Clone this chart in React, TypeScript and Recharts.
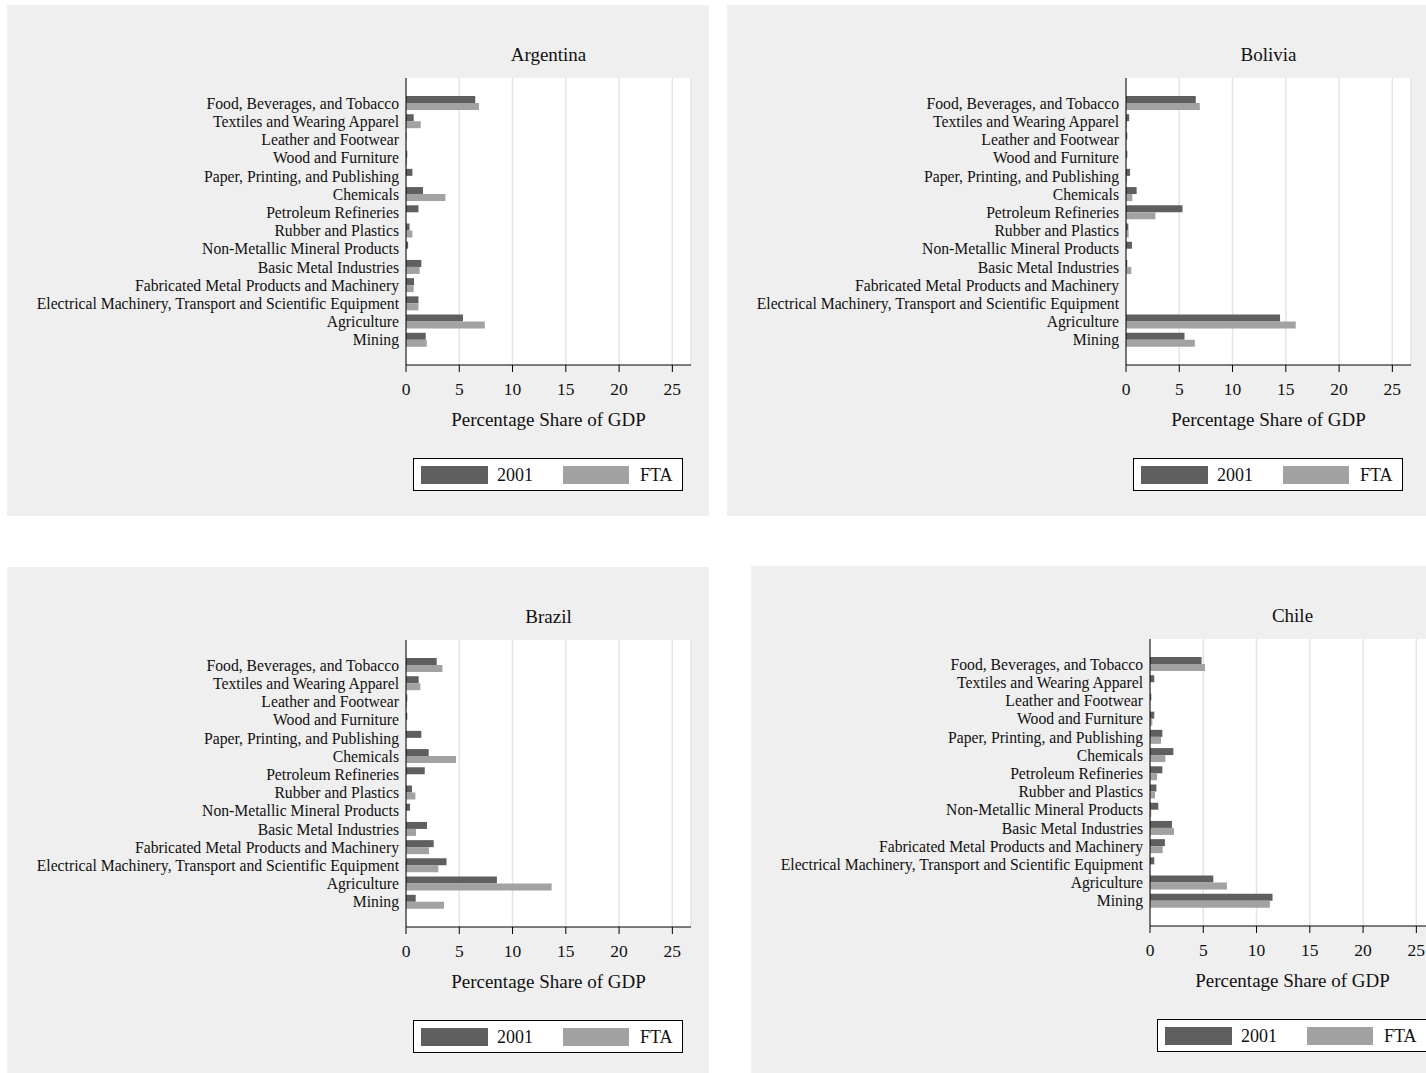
import { Bar, BarChart, CartesianGrid, XAxis, YAxis } from 'recharts';

const sectors = [
  'Food, Beverages, and Tobacco',
  'Textiles and Wearing Apparel',
  'Leather and Footwear',
  'Wood and Furniture',
  'Paper, Printing, and Publishing',
  'Chemicals',
  'Petroleum Refineries',
  'Rubber and Plastics',
  'Non-Metallic Mineral Products',
  'Basic Metal Industries',
  'Fabricated Metal Products and Machinery',
  'Electrical Machinery, Transport and Scientific Equipment',
  'Agriculture',
  'Mining',
];

const xTicks = [0, 5, 10, 15, 20, 25];
const seriesNames = ['2001', 'FTA'];

const argentina2001 = [6.5, 0.72, 0.05, 0.12, 0.6, 1.6, 1.17, 0.33, 0.2, 1.44, 0.75, 1.17, 5.35, 1.85];
const argentinaFta = [6.85, 1.38, 0, 0.1, 0, 3.7, 0, 0.6, 0, 1.28, 0.72, 1.17, 7.4, 1.95];

const bolivia2001 = [6.55, 0.3, 0.12, 0.12, 0.38, 1.0, 5.3, 0.22, 0.56, 0.12, 0, 0, 14.46, 5.49];
const boliviaFta = [6.93, 0.1, 0, 0, 0.1, 0.6, 2.76, 0.25, 0, 0.5, 0, 0, 15.93, 6.46];

const brazil2001 = [2.88, 1.19, 0.12, 0.12, 1.44, 2.13, 1.76, 0.56, 0.38, 1.97, 2.6, 3.8, 8.53, 0.91];
const brazilFta = [3.42, 1.35, 0.1, 0, 0, 4.7, 0, 0.88, 0, 0.94, 2.16, 3.04, 13.67, 3.57];

const chile2001 = [4.84, 0.4, 0.12, 0.4, 1.16, 2.19, 1.16, 0.6, 0.78, 2.06, 1.4, 0.4, 5.94, 11.5];
const chileFta = [5.16, 0, 0, 0.22, 1.03, 1.44, 0.66, 0.47, 0.12, 2.25, 1.19, 0, 7.22, 11.25];

const DARK = '#5f5f5f';
const LIGHT = '#a2a2a2';
const FONT = "'Liberation Serif', 'Times New Roman', serif";

type PanelProps = { country: string; base: number[]; fta: number[]; left: number; top: number };

function Panel({ country, base, fta, left, top }: PanelProps) {
  const data = sectors.map((s, i) => ({ sector: s, base: base[i], fta: fta[i] }));
  return (
    <div style={{ position: 'absolute', left, top, width: 702, height: 511, background: '#efefef', fontFamily: FONT }}>
      <div style={{ position: 'absolute', left: 399, width: 285, top: 39, textAlign: 'center', fontSize: 19, color: '#111' }}>
        {country}
      </div>
      <BarChart
        width={702}
        height={511}
        data={data}
        layout="vertical"
        margin={{ top: 73, right: 18, bottom: 81, left: 0 }}
        barGap={0}
        barSize={7}
      >
        <CartesianGrid horizontal={false} stroke="#e4e4e4" strokeWidth={1.5} fill="#ffffff" />
        <XAxis
          type="number"
          domain={[0, 26.75]}
          ticks={xTicks}
          height={70}
          tickSize={7}
          tickMargin={11}
          stroke="#000"
          tick={{ fontSize: 17.5, fill: '#111', fontFamily: FONT }}
          label={{ value: 'Percentage Share of GDP', position: 'insideTop', offset: 48, fontSize: 19, fill: '#111', fontFamily: FONT }}
        />
        <YAxis
          type="category"
          dataKey="sector"
          width={399}
          tickSize={0}
          tickMargin={7}
          padding={{ top: 16, bottom: 16 }}
          stroke="#000"
          interval={0}
          tick={{ fontSize: 15.7, fill: '#111', fontFamily: FONT }}
        />
        <Bar dataKey="base" name={seriesNames[0]} fill={DARK} isAnimationActive={false} />
        <Bar dataKey="fta" name={seriesNames[1]} fill={LIGHT} isAnimationActive={false} />
      </BarChart>
      <div
        style={{
          position: 'absolute',
          left: 406,
          top: 453,
          width: 270,
          height: 33,
          boxSizing: 'border-box',
          border: '1.5px solid #000',
          background: '#fff',
          fontSize: 18,
          color: '#111',
        }}
      >
        <span style={{ position: 'absolute', left: 7, top: 7, width: 67, height: 18, background: DARK }} />
        <span style={{ position: 'absolute', left: 83, top: 6, lineHeight: '20px' }}>{seriesNames[0]}</span>
        <span style={{ position: 'absolute', left: 149, top: 7, width: 66, height: 18, background: LIGHT }} />
        <span style={{ position: 'absolute', left: 226, top: 6, lineHeight: '20px' }}>{seriesNames[1]}</span>
      </div>
    </div>
  );
}

export default function App() {
  return (
    <div style={{ position: 'absolute', left: 0, top: 0, width: 1426, height: 1073, overflow: 'hidden', background: '#fff' }}>
      <Panel country="Argentina" base={argentina2001} fta={argentinaFta} left={7} top={5} />
      <Panel country="Bolivia" base={bolivia2001} fta={boliviaFta} left={727} top={5} />
      <Panel country="Brazil" base={brazil2001} fta={brazilFta} left={7} top={567} />
      <Panel country="Chile" base={chile2001} fta={chileFta} left={751} top={566} />
    </div>
  );
}
